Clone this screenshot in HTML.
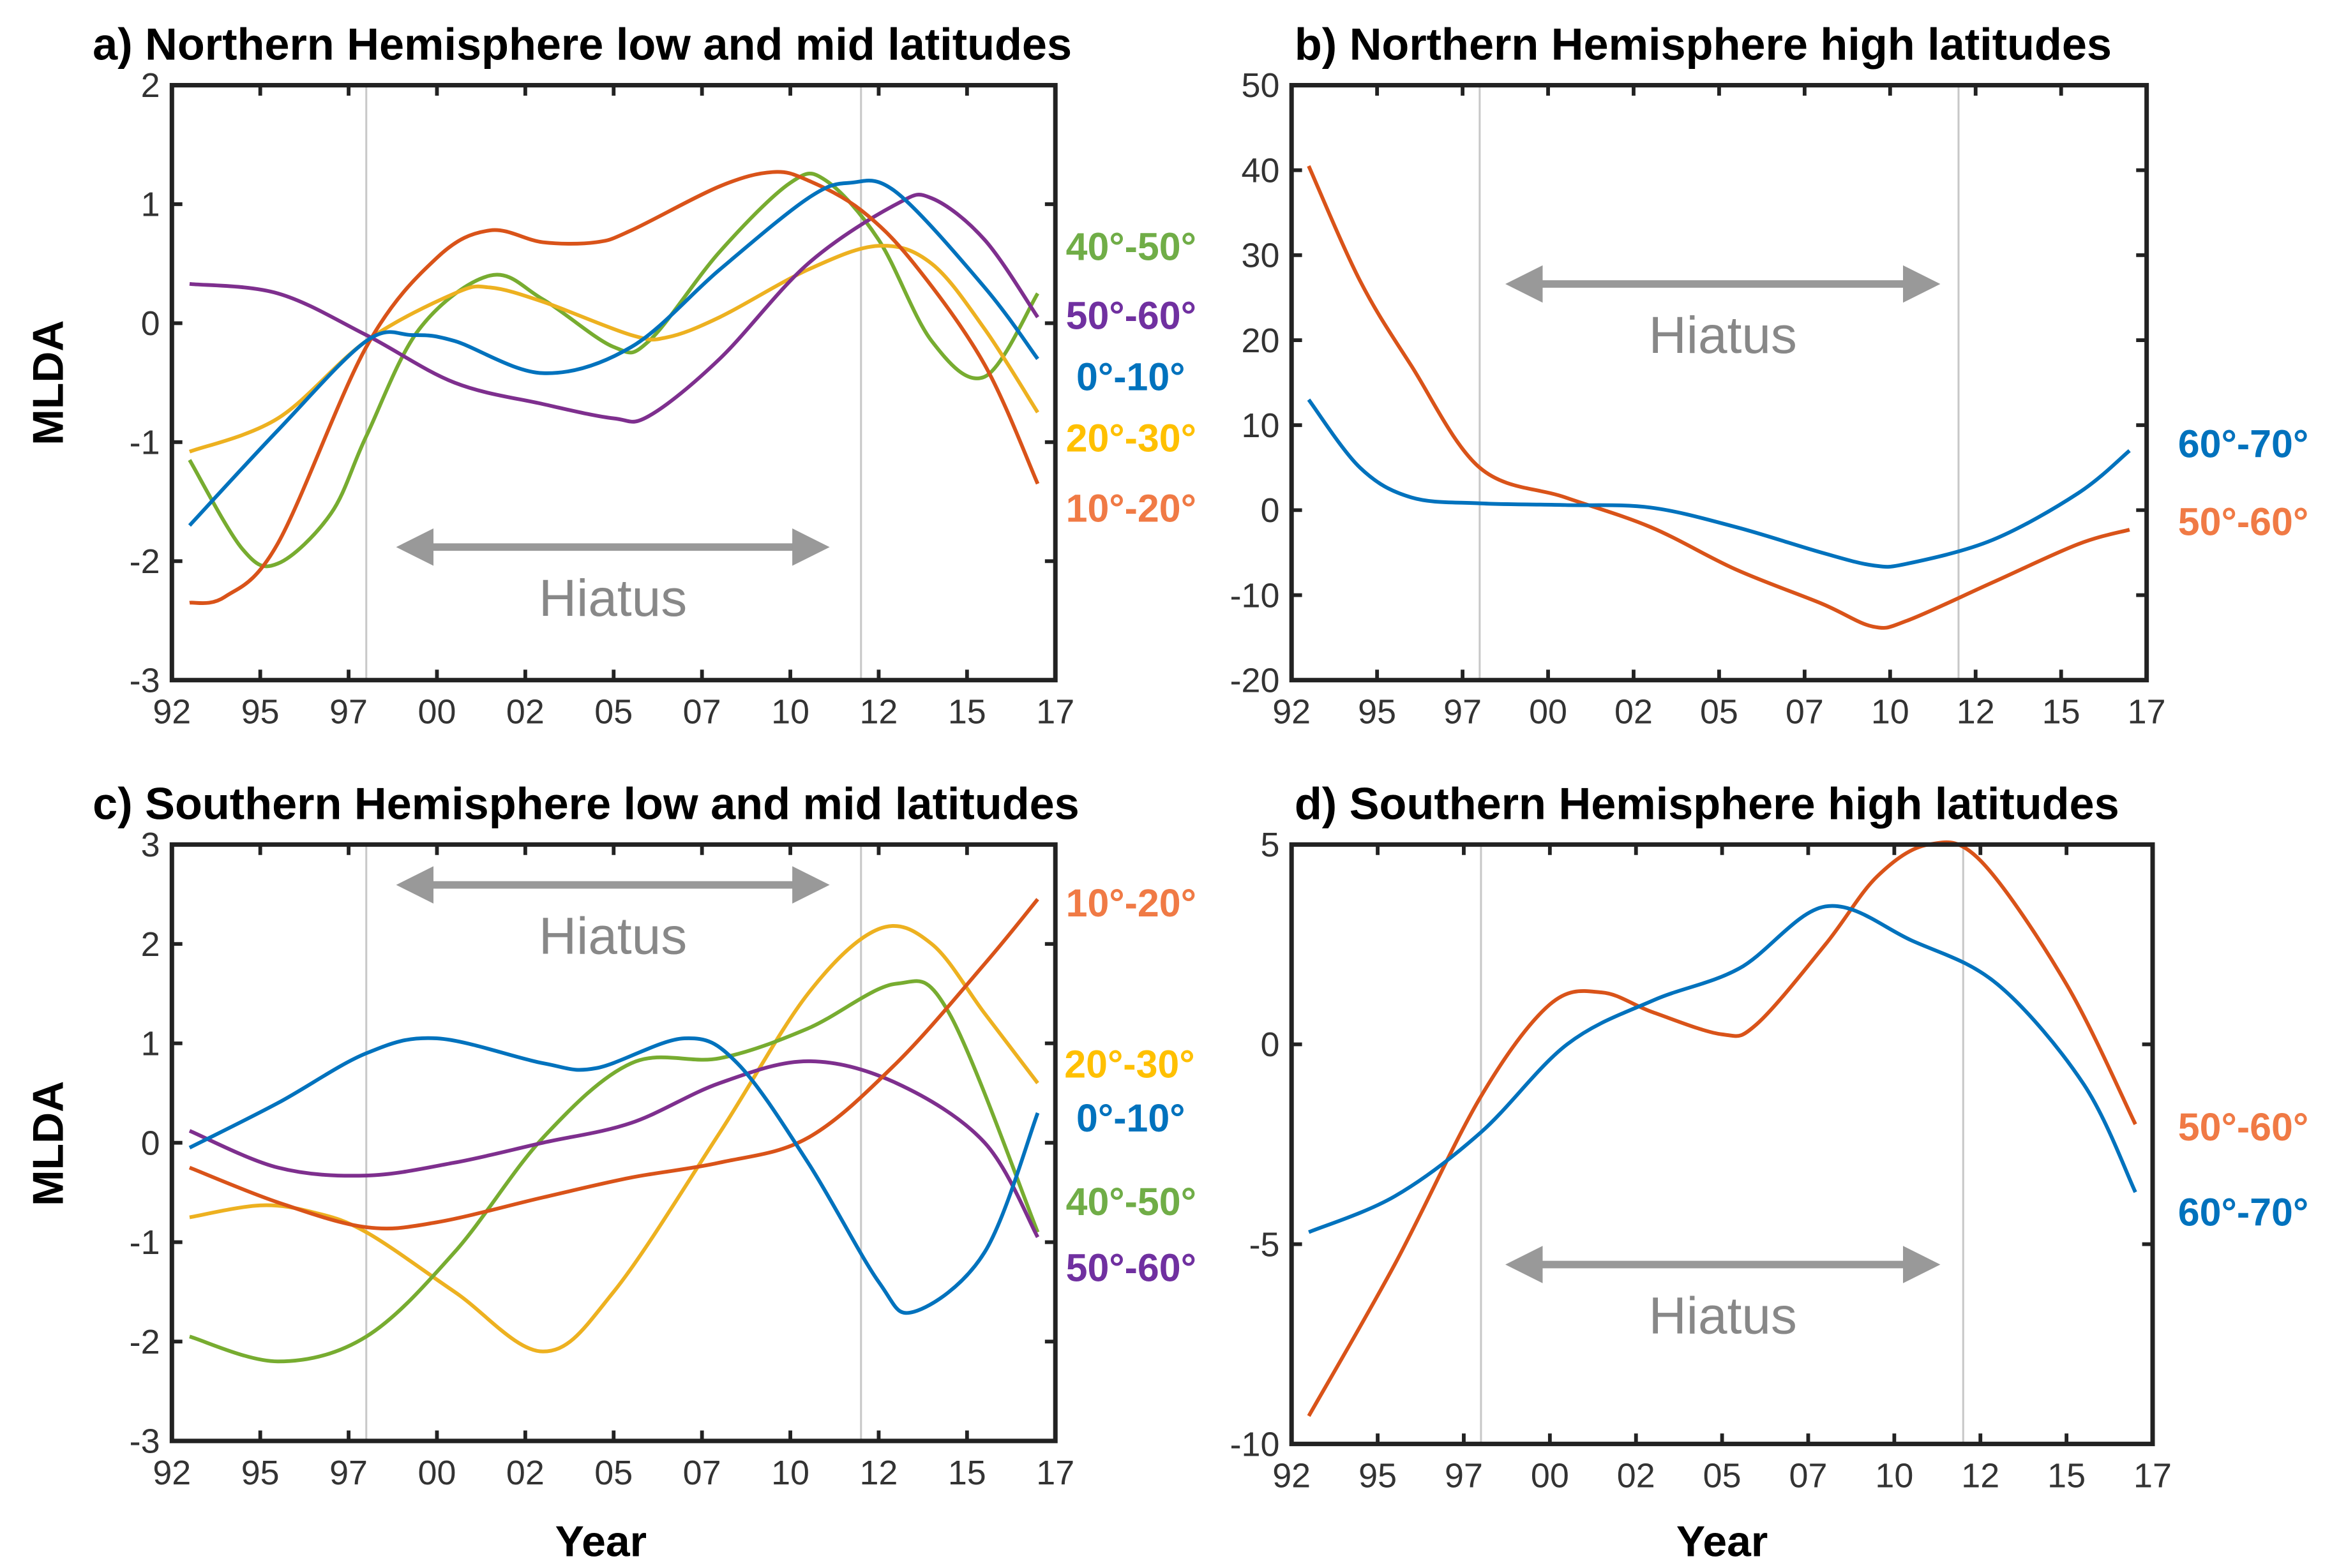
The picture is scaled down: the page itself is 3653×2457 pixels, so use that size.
<!DOCTYPE html>
<html><head><meta charset="utf-8">
<style>
html,body{margin:0;padding:0;background:#fff;}
svg{display:block;}
.title{font-family:"Liberation Sans",sans-serif;font-weight:bold;font-size:30px;fill:#000;}
.tick{font-family:"Liberation Sans Narrow","Liberation Sans",sans-serif;font-size:23px;fill:#333;}
.lab{font-family:"Liberation Sans",sans-serif;font-weight:bold;font-size:26px;}
.axt{font-family:"Liberation Sans",sans-serif;font-weight:bold;font-size:29px;fill:#000;}
.hiatus{font-family:"Liberation Sans",sans-serif;font-size:35px;fill:#888;}
</style></head>
<body>
<svg id="fig" width="3653" height="2457" viewBox="0 0 1560 1049" preserveAspectRatio="none" xmlns="http://www.w3.org/2000/svg">
<defs>
<marker id="ah" markerWidth="5" markerHeight="5" refX="4" refY="2.5" orient="auto-start-reverse" markerUnits="strokeWidth"><path d="M0,0 L5,2.5 L0,5 z" fill="#999"/></marker>
</defs>
</svg>
<script>
// ---- data ----
const xTickLabels = ["92","95","97","00","02","05","07","10","12","15","17"];
const hiatusYears = [1997.5, 2011.5];
const aYticks = [-3,-2,-1,0,1,2];
const bYticks = [-20,-10,0,10,20,30,40,50];
const cYticks = [-3,-2,-1,0,1,2,3];
const dYticks = [-10,-5,0,5];

const a_blue_x = [1992.5,1995,1997.5,1998.8,2000,2002.5,2005,2007.5,2010,2011.2,2012.5,2015,2016.5];
const a_blue_y = [-1.7,-0.9,-0.15,-0.1,-0.15,-0.42,-0.2,0.45,1.05,1.18,1.1,0.3,-0.3];
const a_orange_x = [1992.5,1993.5,1995,1997.5,1999.5,2001,2002.5,2004,2005,2007.5,2009,2010,2011.5,2013,2015,2016.5];
const a_orange_y = [-2.35,-2.3,-1.85,-0.2,0.55,0.78,0.68,0.68,0.78,1.15,1.27,1.2,0.95,0.5,-0.35,-1.35];
const a_green_x = [1992.5,1994,1995,1996.5,1997.5,1999,2001,2002.5,2004.5,2005.5,2007.5,2009.5,2010.5,2012,2013.5,2015,2016.5];
const a_green_y = [-1.15,-1.9,-2.02,-1.6,-0.95,-0.05,0.4,0.2,-0.2,-0.15,0.6,1.18,1.2,0.7,-0.15,-0.45,0.25];
const a_yellow_x = [1992.5,1995,1997.5,2000,2001,2002.5,2005,2006,2007.5,2010,2012,2013.5,2015,2016.5];
const a_yellow_y = [-1.08,-0.8,-0.15,0.25,0.3,0.18,-0.1,-0.12,0.05,0.45,0.65,0.5,-0.05,-0.75];
const a_purple_x = [1992.5,1995,1997.5,2000,2002.5,2004.5,2005.5,2007.5,2010,2012.5,2013.5,2015,2016.5];
const a_purple_y = [0.33,0.25,-0.1,-0.5,-0.68,-0.8,-0.78,-0.3,0.5,1.0,1.05,0.7,0.05];

const b_orange_x = [1992.5,1994,1995.5,1997.5,2000,2002.5,2005,2007.5,2009,2010,2012.5,2015,2016.5];
const b_orange_y = [40.5,27,17,5,1.5,-2,-7,-11,-13.7,-13,-8.5,-4,-2.3];
const b_blue_x = [1992.5,1994,1995.5,1997.5,2000,2002.5,2005,2007.5,2009,2010,2012.5,2015,2016.5];
const b_blue_y = [13,5,1.5,0.8,0.6,0.3,-2,-5,-6.5,-6.3,-3.5,2,7];

const c_orange_x = [1992.5,1995,1997.5,1999.5,2002.5,2005,2007.5,2010,2012.5,2015,2016.5];
const c_orange_y = [-0.25,-0.6,-0.85,-0.8,-0.55,-0.35,-0.2,0.05,0.8,1.8,2.45];
const c_yellow_x = [1992.5,1994.5,1996,1997.5,2000,2002.5,2004.5,2007.5,2010,2012,2013.5,2015,2016.5];
const c_yellow_y = [-0.75,-0.63,-0.7,-0.9,-1.5,-2.1,-1.5,0.1,1.5,2.15,2.0,1.3,0.6];
const c_blue_x = [1992.5,1995,1997.5,1999.5,2002.5,2004,2006.5,2008,2010,2012,2013,2015,2016.5];
const c_blue_y = [-0.05,0.4,0.9,1.05,0.8,0.75,1.05,0.8,-0.2,-1.4,-1.7,-1.1,0.3];
const c_green_x = [1992.5,1995,1997.5,2000,2002.5,2005,2007.5,2010,2012.5,2014,2016.5];
const c_green_y = [-1.95,-2.2,-1.95,-1.1,0.05,0.8,0.85,1.15,1.6,1.3,-0.9];
const c_purple_x = [1992.5,1995,1997.5,2000,2002.5,2005,2007.5,2010,2012.5,2015,2016.5];
const c_purple_y = [0.12,-0.25,-0.33,-0.2,0.0,0.2,0.6,0.82,0.6,0.0,-0.95];

const d_orange_x = [1992.5,1995,1997.5,1999.5,2001,2002.5,2004.5,2005.5,2007.5,2009,2010.5,2012,2014.5,2016.5];
const d_orange_y = [-9.3,-5.5,-1.3,1.0,1.3,0.8,0.25,0.5,2.5,4.2,5.0,4.6,1.5,-2.0];
const d_blue_x = [1992.5,1995,1997.5,2000,2002.5,2005,2007.5,2010,2012.5,2015,2016.5];
const d_blue_y = [-4.7,-3.8,-2.2,0.0,1.1,1.9,3.45,2.6,1.5,-1.0,-3.7];

const C = {blue:"#0072BD",orange:"#D95319",yellow:"#EDB120",purple:"#7E2F8E",green:"#77AC30"};
const LC = {blue:"#0072BD",orange:"#F07A45",yellow:"#FFC000",purple:"#7030A0",green:"#70AD47"};

const NS="http://www.w3.org/2000/svg";
const svg=document.getElementById('fig');
function mk(tag,attrs,parent){const e=document.createElementNS(NS,tag);for(const k in attrs)e.setAttribute(k,attrs[k]);(parent||svg).appendChild(e);return e;}

function panel(id,box,ymin,ymax,yticks,series,title,titlePos,labels,hiatus){
  const g=mk('g',{});
  
  
  const sx=yr=>box.x0+(yr-1992)/25*(box.x1-box.x0);
  const sy=v=>box.y1-(v-ymin)/(ymax-ymin)*(box.y1-box.y0);
  const t=mk('text',{x:titlePos[0],y:titlePos[1],class:'title'},g);t.textContent=title;
  
  
  hiatusYears.forEach(yr=>{const l=mk('line',{x1:sx(yr),x2:sx(yr),y1:box.y0,y2:box.y1,stroke:'#c8c8c8','stroke-width':1.3},g);
    
    });
  series.forEach(s=>{
    const pts=s.x.map((x,i)=>[sx(x),sy(s.y[i])]);
    let d='M'+pts[0][0]+','+pts[0][1];
    for(let i=0;i<pts.length-1;i++){
      const p0=pts[Math.max(0,i-1)],p1=pts[i],p2=pts[i+1],p3=pts[Math.min(pts.length-1,i+2)];
      const c1=[p1[0]+(p2[0]-p0[0])/6,p1[1]+(p2[1]-p0[1])/6];
      const c2=[p2[0]-(p3[0]-p1[0])/6,p2[1]-(p3[1]-p1[1])/6];
      d+=' C'+c1[0]+','+c1[1]+' '+c2[0]+','+c2[1]+' '+p2[0]+','+p2[1];
    }
    const p=mk('path',{d:d,fill:'none',stroke:C[s.c],'stroke-width':2.5},g);
    
    
  });
  const r=mk('rect',{x:box.x0,y:box.y0,width:box.x1-box.x0,height:box.y1-box.y0,fill:'none',stroke:'#222','stroke-width':3},g);
  
  
  xTickLabels.forEach((lb,i)=>{const x=box.x0+i*(box.x1-box.x0)/10;
    mk('line',{x1:x,x2:x,y1:box.y1,y2:box.y1-7,stroke:'#222','stroke-width':2.5},g);
    mk('line',{x1:x,x2:x,y1:box.y0,y2:box.y0+7,stroke:'#222','stroke-width':2.5},g);
    const tx=mk('text',{x:x,y:box.y1+29,class:'tick','text-anchor':'middle'},g);tx.textContent=lb;
    
    });
  yticks.forEach(v=>{const y=sy(v);
    mk('line',{x1:box.x0,x2:box.x0+7,y1:y,y2:y,stroke:'#222','stroke-width':2.5},g);
    mk('line',{x1:box.x1,x2:box.x1-7,y1:y,y2:y,stroke:'#222','stroke-width':2.5},g);
    const ty=mk('text',{x:box.x0-8,y:y+8,class:'tick','text-anchor':'end'},g);ty.textContent=v;
    
    });
  labels.forEach(L=>{const te=mk('text',{x:L[0],y:L[1],class:'lab',fill:LC[L[3]]},g);te.textContent=L[2];
    
    });
  const ar=mk('line',{x1:hiatus[0]+12,x2:hiatus[1]-12,y1:hiatus[2],y2:hiatus[2],stroke:'#999','stroke-width':5,'marker-start':'url(#ah)','marker-end':'url(#ah)'},g);
  
  
  const ht=mk('text',{x:(hiatus[0]+hiatus[1])/2,y:hiatus[2]+46,class:'hiatus','text-anchor':'middle'},g);ht.textContent='Hiatus';
  
  
}

panel('a',{x0:115,x1:706,y0:57,y1:455},-3,2,aYticks,[
 {n:'40-50',c:'green',x:a_green_x,y:a_green_y},
 {n:'20-30',c:'yellow',x:a_yellow_x,y:a_yellow_y},
 {n:'50-60',c:'purple',x:a_purple_x,y:a_purple_y},
 {n:'10-20',c:'orange',x:a_orange_x,y:a_orange_y},
 {n:'0-10',c:'blue',x:a_blue_x,y:a_blue_y}],
 'a) Northern Hemisphere low and mid latitudes',[62,40],
 [[713,174,'40°-50°','green'],[713,220,'50°-60°','purple'],[720,261,'0°-10°','blue'],[713,302,'20°-30°','yellow'],[713,349,'10°-20°','orange']],
 [258,562,366]);

panel('b',{x0:864,x1:1436,y0:57,y1:455},-20,50,bYticks,[
 {n:'50-60',c:'orange',x:b_orange_x,y:b_orange_y},
 {n:'60-70',c:'blue',x:b_blue_x,y:b_blue_y}],
 'b) Northern Hemisphere high latitudes',[866,40],
 [[1457,306,'60°-70°','blue'],[1457,358,'50°-60°','orange']],
 [1000,1305,190]);

panel('c',{x0:115,x1:706,y0:565,y1:964},-3,3,cYticks,[
 {n:'20-30',c:'yellow',x:c_yellow_x,y:c_yellow_y},
 {n:'40-50',c:'green',x:c_green_x,y:c_green_y},
 {n:'50-60',c:'purple',x:c_purple_x,y:c_purple_y},
 {n:'10-20',c:'orange',x:c_orange_x,y:c_orange_y},
 {n:'0-10',c:'blue',x:c_blue_x,y:c_blue_y}],
 'c) Southern Hemisphere low and mid latitudes',[62,548],
 [[713,613,'10°-20°','orange'],[712,721,'20°-30°','yellow'],[720,757,'0°-10°','blue'],[713,813,'40°-50°','green'],[713,857,'50°-60°','purple']],
 [258,562,592]);

panel('d',{x0:864,x1:1440,y0:565,y1:966},-10,5,dYticks,[
 {n:'50-60',c:'orange',x:d_orange_x,y:d_orange_y},
 {n:'60-70',c:'blue',x:d_blue_x,y:d_blue_y}],
 'd) Southern Hemisphere high latitudes',[866,548],
 [[1457,763,'50°-60°','orange'],[1457,820,'60°-70°','blue']],
 [1000,1305,846]);

[[42,256],[42,765]].forEach(p=>{const t=mk('text',{x:p[0],y:p[1],class:'axt','text-anchor':'middle',transform:'rotate(-90 '+p[0]+' '+p[1]+')'});t.textContent='MLDA';
  
  });
[[402,1041],[1152,1041]].forEach(p=>{const t=mk('text',{x:p[0],y:p[1],class:'axt','text-anchor':'middle'});t.textContent='Year';
  
  });
</script>
</body></html>
